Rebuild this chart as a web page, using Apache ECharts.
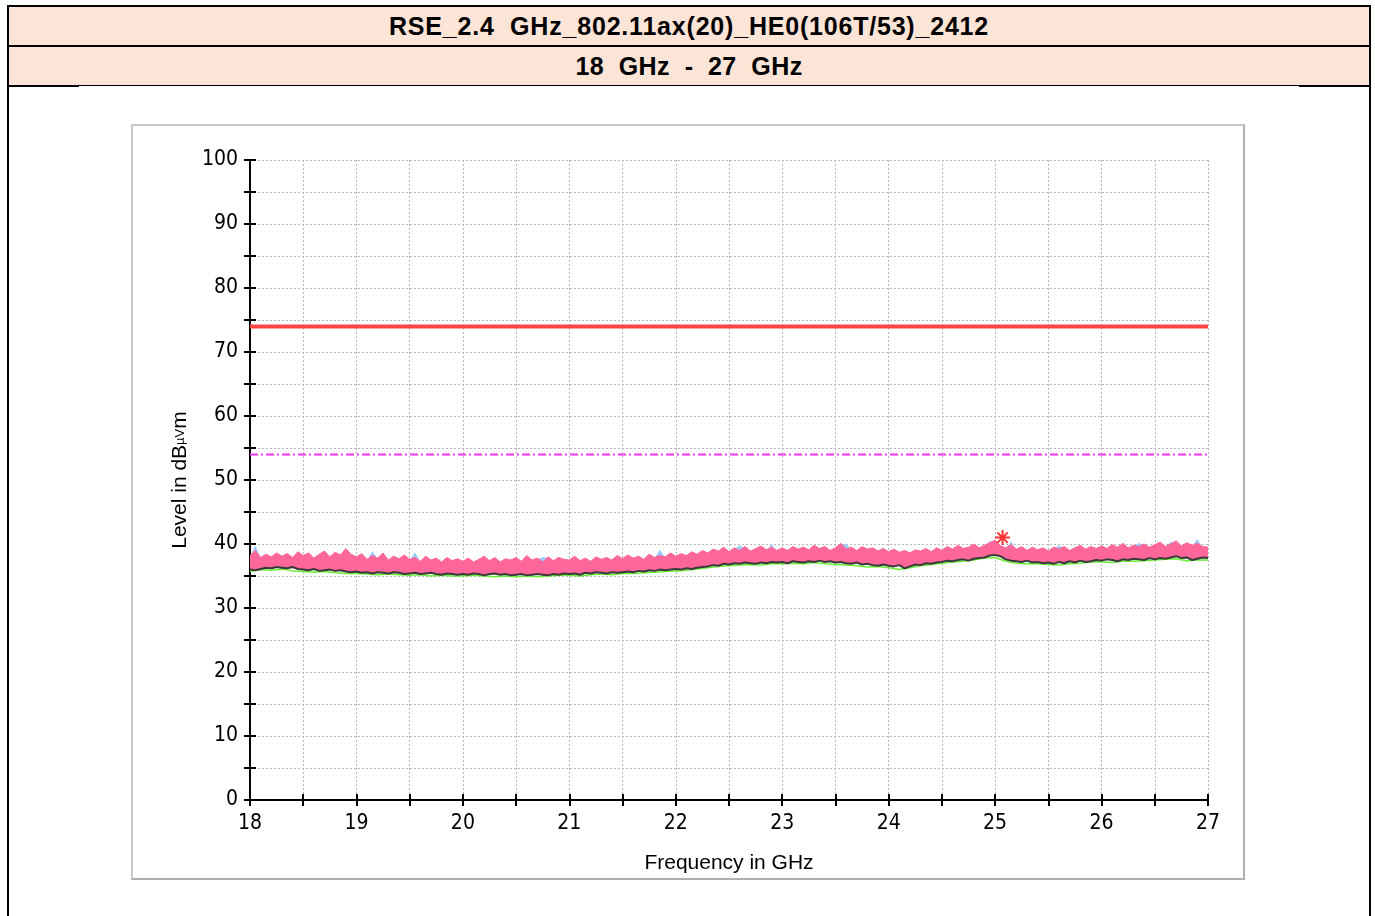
<!DOCTYPE html>
<html>
<head>
<meta charset="utf-8">
<script src="https://cdn.jsdelivr.net/npm/echarts@6/dist/echarts.min.js"></script>
<style>
  html, body { margin: 0; padding: 0; background: #fff; width: 1375px; height: 916px; overflow: hidden; }
  .abs { position: absolute; box-sizing: border-box; }
  #frame { left: 7px; top: 5px; width: 1364px; height: 1000px; border: 2px solid #000; }
  .hdr { left: 9px; width: 1360px; height: 38px; background: #fce4d6; color: #000;
         font: bold 25px "Liberation Sans", Arial, sans-serif; letter-spacing: 0.8px;
         text-align: center; line-height: 38px; white-space: pre; }
  .rule { background: #000; }
  #panel { left: 131px; top: 124px; width: 1114px; height: 756px;
           border: 2px solid #c8c8c8; border-right-color: #b0b0b0; border-bottom-color: #b0b0b0; }
  #chart { left: 0; top: 0; width: 1375px; height: 916px; }
</style>
</head>
<body>
<div id="frame" class="abs"></div>
<div class="abs hdr" style="top:7px">RSE_2.4  GHz_802.11ax(20)_HE0(106T/53)_2412</div>
<div class="abs rule" style="left:9px;top:45px;width:1360px;height:2px"></div>
<div class="abs hdr" style="top:47px;letter-spacing:0.4px">18  GHz  -  27  GHz</div>
<div class="abs rule" style="left:9px;top:85px;width:1360px;height:1px"></div>
<div class="abs rule" style="left:9px;top:85px;width:70px;height:2px"></div>
<div class="abs rule" style="left:1299px;top:85px;width:70px;height:2px"></div>
<div id="panel" class="abs"></div>
<div id="chart" class="abs"></div>
<script>
// Sweep: 18 - 27 GHz, one sample every 50 MHz
const freqStart = 18;
const freqStep = 0.05;

// Upper envelope of the peak trace (pink), dBµV/m
const peakTrace = [
  38.2, 39.0, 37.9, 38.4, 38.0, 38.6, 38.1, 38.5, 37.9, 38.8,
  38.2, 38.6, 37.8, 38.4, 38.9, 38.0, 38.7, 38.3, 39.3, 38.4,
  38.0, 38.5, 37.6, 38.2, 37.8, 38.6, 37.5, 38.1, 37.7, 38.3,
  37.6, 37.9, 37.3, 38.1, 37.5, 37.8, 37.2, 37.9, 37.4, 37.7,
  37.3, 37.8, 37.2, 37.6, 38.1, 37.4, 37.9, 37.2, 37.7, 37.5,
  37.9, 37.3, 38.2, 37.5, 37.8, 37.2, 38.0, 37.4, 37.9, 37.6,
  37.5, 38.1, 37.4, 37.8, 37.3, 38.0, 37.6, 37.9, 37.5, 38.2,
  37.7, 38.3, 37.8, 38.1, 37.6, 38.4, 37.9, 38.2, 38.0, 38.6,
  38.1, 38.5, 38.2, 38.8, 38.4, 39.0, 38.6, 39.2, 38.9, 39.5,
  38.8, 39.4, 39.0, 39.6, 38.9, 39.3, 39.7, 39.1, 39.5, 39.0,
  39.4, 39.0, 39.6, 39.2, 39.5, 39.1, 39.8, 39.3, 39.6, 39.0,
  39.4, 40.1, 39.2, 39.5, 39.0, 39.6, 39.2, 39.4, 38.9, 39.3,
  38.8, 39.2, 38.7, 39.0, 38.6, 39.1, 38.9, 39.3, 38.8, 39.4,
  39.0, 39.6, 39.2, 39.8, 39.3, 39.5, 40.0, 39.4, 39.8, 40.2,
  40.6, 39.7, 39.4, 39.9, 39.2, 39.6, 39.0, 39.5, 39.1, 39.4,
  38.9, 39.5, 39.2, 39.6, 39.0, 39.4, 39.8, 39.2, 39.6, 39.3,
  39.7, 39.3, 39.9, 39.5, 40.1, 39.4, 39.8, 39.6, 40.0, 39.5,
  39.9, 40.3, 39.6, 40.0, 40.5, 39.7, 40.2, 39.8, 40.1, 39.6,
  39.5
];

// Max-hold trace (light blue), mostly hidden under the peak trace
const maxHoldTrace = [
  37.9, 39.6, 37.6, 38.1, 37.7, 38.3, 37.8, 38.2, 37.6, 38.5,
  37.9, 38.3, 37.5, 38.1, 38.6, 37.7, 38.4, 38.0, 39.0, 38.1,
  37.7, 38.2, 37.3, 38.8, 37.5, 38.3, 37.2, 37.8, 37.4, 38.0,
  37.3, 38.6, 37.0, 37.8, 37.2, 37.5, 36.9, 37.6, 37.1, 37.4,
  37.0, 37.5, 36.9, 37.3, 37.8, 37.1, 37.6, 36.9, 37.4, 37.2,
  37.6, 37.0, 37.9, 37.2, 37.5, 37.9, 37.7, 37.1, 37.6, 37.3,
  37.2, 37.8, 37.1, 37.5, 37.0, 37.7, 37.3, 37.6, 37.2, 37.9,
  37.4, 38.0, 37.5, 37.8, 37.3, 38.1, 37.6, 39.0, 37.7, 38.3,
  37.8, 38.2, 37.9, 38.5, 38.1, 38.7, 38.3, 38.9, 38.6, 39.2,
  38.5, 39.1, 39.7, 39.3, 38.6, 39.0, 39.4, 38.8, 39.9, 38.7,
  39.1, 38.7, 39.3, 38.9, 39.2, 38.8, 39.5, 39.0, 39.3, 38.7,
  39.1, 39.8, 39.9, 39.2, 38.7, 39.3, 38.9, 39.1, 38.6, 39.0,
  38.5, 38.9, 38.4, 38.7, 38.3, 38.8, 38.6, 39.0, 38.5, 39.1,
  38.7, 39.3, 38.9, 39.5, 39.0, 39.2, 39.7, 39.1, 39.5, 40.4,
  40.3, 39.4, 39.1, 40.3, 38.9, 39.3, 38.7, 39.2, 38.8, 39.1,
  38.6, 39.2, 39.7, 39.3, 38.7, 39.1, 39.5, 38.9, 39.3, 39.0,
  39.4, 39.0, 39.6, 39.2, 39.8, 39.1, 39.5, 40.1, 39.7, 39.2,
  39.6, 40.0, 39.3, 40.3, 40.2, 39.4, 39.9, 39.5, 40.7, 39.3,
  39.2
];

// Lower trace (dark grey); also the floor of both filled traces
const floorTrace = [
  36.0, 35.9, 36.1, 36.3, 36.2, 36.4, 36.3, 36.2, 36.4, 36.1,
  36.0, 35.9, 36.1, 35.8, 35.9, 36.0, 35.8, 35.9, 35.7, 35.6,
  35.7, 35.5, 35.6, 35.4, 35.6, 35.5, 35.4, 35.6, 35.5, 35.3,
  35.4, 35.5, 35.3, 35.4, 35.5, 35.3, 35.2, 35.4, 35.3, 35.2,
  35.3, 35.2, 35.4, 35.3, 35.1, 35.3, 35.4, 35.2, 35.3, 35.1,
  35.2, 35.3, 35.1, 35.2, 35.3, 35.2, 35.1, 35.3, 35.2, 35.4,
  35.3, 35.4, 35.2, 35.5, 35.4, 35.6, 35.5, 35.4, 35.6, 35.5,
  35.6, 35.7, 35.6, 35.8, 35.7, 35.9, 35.8, 36.0, 35.9, 36.0,
  36.1, 36.0, 36.2, 36.1, 36.3, 36.4, 36.5, 36.7, 36.6, 36.9,
  36.8, 37.0, 36.9, 37.1, 37.0, 36.9, 37.1, 37.0, 37.2, 37.1,
  37.2, 37.0, 37.3, 37.2, 37.1, 37.3, 37.2, 37.4, 37.2, 37.3,
  37.1, 37.2, 37.0, 36.9, 37.1, 36.8, 36.9, 36.7, 36.6, 36.8,
  36.6, 36.5, 36.7, 36.2, 36.5, 36.8, 36.7, 37.0, 36.9, 37.1,
  37.2, 37.4, 37.3, 37.5, 37.6, 37.4, 37.7, 37.8, 37.9, 38.2,
  38.3, 38.1, 37.6, 37.4, 37.3, 37.2, 37.4, 37.1, 37.2, 37.0,
  37.1, 36.9, 37.2, 37.0, 37.3, 37.1, 37.4, 37.2, 37.3, 37.5,
  37.4, 37.6, 37.5, 37.3, 37.6, 37.5, 37.7, 37.6, 37.5, 37.8,
  37.6, 37.8, 37.7, 37.9, 38.1, 37.8, 37.9, 37.5, 37.7, 37.9,
  37.8
];

// Average trace (green), one sample every 100 MHz
const avgStep = 0.1;
const avgTrace = [
  35.7, 36.0, 35.9, 36.1, 35.8, 35.7, 35.6, 35.7, 35.5, 35.4,
  35.4, 35.3, 35.2, 35.3, 35.2, 35.1, 35.2, 35.0, 35.1, 35.0,
  35.0, 35.1, 35.0, 34.9, 35.0, 34.9, 35.0, 34.9, 35.0, 35.1,
  35.1, 35.0, 35.2, 35.3, 35.2, 35.4, 35.4, 35.5, 35.6, 35.7,
  35.8, 35.9, 36.1, 36.3, 36.5, 36.6, 36.7, 36.8, 36.7, 36.9,
  36.9, 37.0, 36.9, 37.1, 36.9, 36.8, 36.7, 36.6, 36.4, 36.5,
  36.3, 36.0, 36.3, 36.6, 36.8, 37.0, 37.2, 37.3, 37.5, 37.8,
  37.9, 37.3, 37.0, 36.9, 36.9, 36.8, 36.7, 36.9, 37.0, 37.2,
  37.2, 37.1, 37.3, 37.3, 37.4, 37.5, 37.6, 37.7, 37.4, 37.5,
  37.5
];

// Limits and the peak marker
const peakLimit = 74;
const avgLimit = 54;
const peakMarker = [25.07, 41.0];

// Axis ranges and tick labels
const xRange = [18, 27];
const yRange = [0, 100];
const xLabels = ['18', '19', '20', '21', '22', '23', '24', '25', '26', '27'];
const yLabels = ['0', '10', '20', '30', '40', '50', '60', '70', '80', '90', '100'];

const freqAt = i => +(freqStart + i * freqStep).toFixed(3);
const pairs = arr => arr.map((v, i) => [freqAt(i), v]);

const tickFont = '"Liberation Sans Narrow", "DejaVu Sans Condensed", "Liberation Sans", sans-serif';
const grey = '#b8b8b8';

// Filled band between a top trace and the floor trace, placed through the axes
function bandSeries(top, color, z) {
  return {
    type: 'custom', z: z, silent: true, clip: true,
    data: [0],
    renderItem: (params, api) => {
      const pts = [];
      for (let i = 0; i < top.length; i++) pts.push(api.coord([freqAt(i), top[i]]));
      for (let i = floorTrace.length - 1; i >= 0; i--) pts.push(api.coord([freqAt(i), floorTrace[i]]));
      return {
        type: 'polygon',
        shape: { points: pts },
        style: { fill: color, stroke: color, lineWidth: 1 }
      };
    }
  };
}

const chart = echarts.init(document.getElementById('chart'), null, { renderer: 'canvas' });

chart.setOption({
  backgroundColor: 'transparent',
  animation: false,
  grid: { left: 250, right: 167, top: 160, bottom: 116, containLabel: false },
  xAxis: [
    {
      type: 'value', min: xRange[0], max: xRange[1], interval: 0.5, position: 'bottom',
      name: 'Frequency in GHz', nameLocation: 'middle', nameGap: 53,
      nameTextStyle: { color: '#000', fontSize: 21, fontFamily: '"Liberation Sans", Arial, sans-serif' },
      axisLine: { show: true, onZero: false, lineStyle: { color: '#000', width: 2 } },
      axisTick: { show: true, inside: false, length: 6, lineStyle: { color: '#000', width: 2 } },
      axisLabel: {
        color: '#000', fontSize: 21, fontFamily: tickFont, margin: 13,
        formatter: v => (Number.isInteger(v) ? xLabels[v - xRange[0]] : '')
      },
      splitLine: { show: true, lineStyle: { color: grey, width: 1, type: [2, 2] } }
    },
    {
      type: 'value', min: xRange[0], max: xRange[1], interval: 0.5, position: 'bottom',
      axisLine: { show: false, onZero: false },
      axisTick: { show: true, inside: true, length: 6, lineStyle: { color: '#000', width: 2 } },
      axisLabel: { show: false }, splitLine: { show: false }
    }
  ],
  yAxis: [
    {
      type: 'value', min: yRange[0], max: yRange[1], interval: 5, position: 'left',
      name: '{a|Level in dB}{s|µV}{a|m}', nameLocation: 'middle', nameGap: 58, nameRotate: 90,
      nameTextStyle: {
        color: '#000',
        rich: {
          a: { fontSize: 21, fontFamily: '"Liberation Sans", Arial, sans-serif', color: '#000' },
          s: { fontSize: 13, fontFamily: '"Liberation Sans", Arial, sans-serif', color: '#000' }
        }
      },
      axisLine: { show: true, onZero: false, lineStyle: { color: '#000', width: 2 } },
      axisTick: { show: true, inside: false, length: 6, lineStyle: { color: '#000', width: 2 } },
      axisLabel: {
        color: '#000', fontSize: 21, fontFamily: tickFont, margin: 12,
        formatter: v => (v % 10 === 0 ? yLabels[v / 10] : '')
      },
      splitLine: { show: true, lineStyle: { color: grey, width: 1, type: [2, 2] } }
    },
    {
      type: 'value', min: yRange[0], max: yRange[1], interval: 5, position: 'left',
      axisLine: { show: false, onZero: false },
      axisTick: { show: true, inside: true, length: 6, lineStyle: { color: '#000', width: 2 } },
      axisLabel: { show: false }, splitLine: { show: false }
    }
  ],
  series: [
    // max-hold band (light blue), then the peak band (pink) over it
    bandSeries(maxHoldTrace, '#99ccff', 2),
    bandSeries(peakTrace, '#ff6699', 3),
    // average trace (green)
    { type: 'line', data: avgTrace.map((v, i) => [+(freqStart + i * avgStep).toFixed(2), v]),
      showSymbol: false, silent: true, lineStyle: { color: '#66ee33', width: 1.5 }, z: 4 },
    // lower trace (dark grey)
    { type: 'line', data: pairs(floorTrace), showSymbol: false, silent: true,
      lineStyle: { color: '#3a3a3a', width: 2 }, z: 5 },
    // peak limit
    { type: 'line', data: [[xRange[0], peakLimit], [xRange[1], peakLimit]], showSymbol: false, silent: true,
      lineStyle: { color: '#ff4444', width: 4 }, z: 6 },
    // average limit
    { type: 'line', data: [[xRange[0], avgLimit], [xRange[1], avgLimit]], showSymbol: false, silent: true,
      lineStyle: { color: '#ff33ff', width: 2, type: [8, 3, 2, 3] }, z: 6 },
    // peak marker
    { type: 'scatter', data: [peakMarker], silent: true, z: 7,
      symbol: 'path://M0,-10L0,10M-10,0L10,0M-7,-7L7,7M-7,7L7,-7', symbolSize: 15,
      itemStyle: { color: 'rgba(0,0,0,0)', borderColor: '#ff0000', borderWidth: 2 } }
  ]
});
</script>
</body>
</html>
